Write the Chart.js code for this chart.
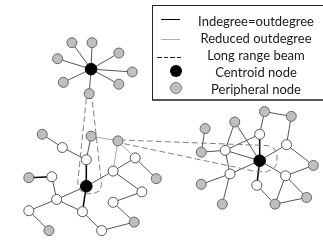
<!DOCTYPE html>
<html>
<head>
<meta charset="utf-8">
<script src="https://cdn.jsdelivr.net/npm/chart.js@4/dist/chart.umd.min.js"></script>
<style>
  body { margin: 0; background: #fff; }
  #wrap { position: relative; width: 323px; height: 244px; overflow: hidden; }
  #legend { position: absolute; left: 152px; top: 5px; width: 170px; height: 93px;
            border: 1px solid #222; border-bottom-width: 2px; border-bottom-color: #555;
            font-family: Lato, "Liberation Sans", sans-serif; font-size: 13px; color: #1a1a1a; }
  .txt { position: absolute; left: 36px; width: 134px; text-align: center; line-height: 14px; white-space: nowrap; }
  .sym { position: absolute; }
</style>
</head>
<body>
<div id="wrap">
  <canvas id="net" width="323" height="244"></canvas>
  <div id="legend"></div>
</div>
<script>
// node positions (x right, y down), kind: c = centroid, p = peripheral, w = plain
const nodeX = [88, 68, 89, 117, 53, 131, 59, 117, 86,
               37, 58, 88, 116, 83, 134, 23, 47, 111, 156, 83, 141, 52, 111, 23, 79, 133, 44, 99,
               269, 297, 207, 238, 264, 292, 203, 228, 264, 320, 233, 291, 203, 261, 313, 225, 280];
const nodeY = [66, 38, 38, 49, 55, 69, 80, 82, 92,
               135, 149, 137, 142, 162, 160, 181, 180, 174, 182, 190, 196, 204, 207, 216, 217, 228, 237, 237,
               111, 116, 129, 122, 135, 146, 154, 152, 163, 168, 177, 179, 188, 189, 202, 209, 209];
const nodeKind = ['c','p','p','p','p','p','p','p','p',
                  'p','w','p','p','w','w','p','w','w','p','c','w','w','w','w','w','p','p','w',
                  'p','p','p','p','w','w','p','w','c','p','w','w','p','w','p','p','p'];

// links as node index pairs
const boldEdges = [[13,19],[19,24],[15,16],[32,36],[36,41]];
const plainEdges = [[0,1],[0,2],[0,3],[0,4],[0,5],[0,6],[0,7],[0,8],
  [9,10],[10,13],[11,13],[14,18],[17,14],[17,19],[17,20],[16,21],[19,21],[21,23],[21,24],
  [23,26],[24,27],[27,25],[25,22],[22,20],
  [28,29],[28,32],[29,33],[30,34],[31,35],[31,36],[32,35],[34,35],[35,36],[33,36],[33,37],
  [36,38],[36,39],[35,38],[38,40],[38,43],[41,44],[39,44],[39,42],[44,42],[39,37]];
const reducedEdges = [[11,12],[12,17],[12,14]];

// long range beam outlines
const beamA = [[83,97],[74,187],[76,194],[82,198],[90,198],[97,195],[99,188],[89,97]];
const beamB = [[118,141],[273,147],[279,150],[282,156],[282,166],[278,172],[270,175],[258,174],[118,144]];

const legendLabels = ['Indegree=outdegree', 'Reduced outdegree', 'Long range beam', 'Centroid node', 'Peripheral node'];

const pt = i => ({ x: nodeX[i], y: nodeY[i] });
const datasets = [];

function addEdges(list, color, width) {
  list.forEach(e => {
    datasets.push({
      data: [pt(e[0]), pt(e[1])], showLine: true, borderColor: color, borderWidth: width,
      pointRadius: 0, order: 3, clip: false
    });
  });
}
addEdges(plainEdges, '#555', 1);
addEdges(reducedEdges, '#a8a8a8', 1);
addEdges(boldEdges, '#000', 1.5);

[beamA, beamB].forEach(b => {
  datasets.push({
    data: b.concat([b[0]]).map(p => ({ x: p[0], y: p[1] })), showLine: true,
    borderColor: '#808080', borderWidth: 1, borderDash: [6, 3], pointRadius: 0, order: 2, clip: false
  });
});

const styles = {
  w: { bg: '#ffffff', border: '#555', r: 5 },
  p: { bg: '#bfbfbf', border: '#666', r: 5 },
  c: { bg: '#000000', border: '#000', r: 5.8 }
};
Object.keys(styles).forEach(k => {
  const s = styles[k];
  datasets.push({
    data: nodeX.map((x, i) => i).filter(i => nodeKind[i] === k).map(pt),
    showLine: false, backgroundColor: s.bg, borderColor: s.border, borderWidth: 1,
    pointRadius: s.r, pointHoverRadius: s.r, order: 0, clip: false
  });
});

new Chart(document.getElementById('net'), {
  type: 'scatter',
  data: { datasets },
  options: {
    responsive: false,
    animation: false,
    devicePixelRatio: 1,
    layout: { padding: 0 },
    plugins: { legend: { display: false }, tooltip: { enabled: false } },
    scales: {
      x: { type: 'linear', min: 0, max: 323, display: false },
      y: { type: 'linear', min: 0, max: 244, reverse: true, display: false }
    }
  }
});

// legend box
const lg = document.getElementById('legend');
const rowsY = [15, 32, 49, 66, 83];
legendLabels.forEach((t, i) => {
  const d = document.createElement('div');
  d.className = 'txt';
  d.style.top = (rowsY[i] - 7) + 'px';
  d.textContent = t;
  lg.appendChild(d);
});
function sym(css) {
  const d = document.createElement('div');
  d.className = 'sym';
  Object.assign(d.style, css);
  lg.appendChild(d);
}
sym({ left: '8px', top: '13px', width: '19px', height: '1px', background: '#000' });
sym({ left: '8px', top: '33px', width: '19px', height: '1px', background: '#b0b0b0' });
[4, 10.5, 17, 23.5].forEach(x => sym({ left: x + 'px', top: '51px', width: '4.5px', height: '1px', background: '#222' }));
sym({ left: '17px', top: '59px', width: '12px', height: '12px', borderRadius: '50%', background: '#000' });
sym({ left: '17px', top: '76px', width: '10px', height: '10px', borderRadius: '50%', background: '#c0c0c0', border: '1px solid #777' });
</script>
</body>
</html>
